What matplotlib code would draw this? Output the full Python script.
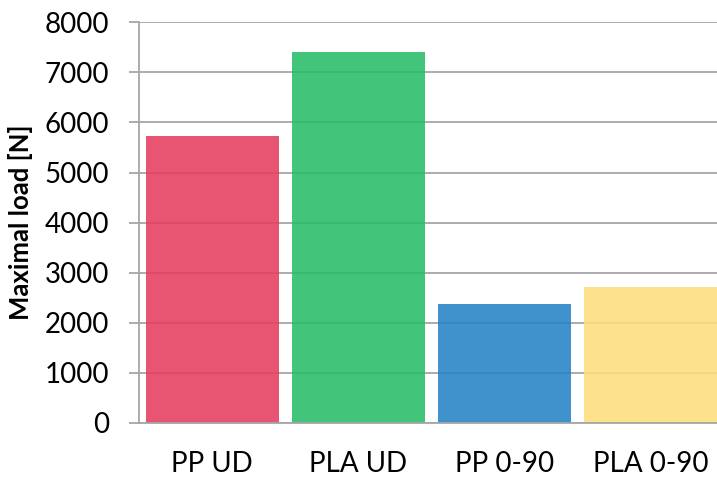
import numpy as np
import matplotlib.pyplot as plt

# maximal load per specimen type
samples = ["PP UD", "PLA UD", "PP 0-90", "PLA 0-90"]
max_load = [5730, 7405, 2375, 2715]
bar_colors = ["#E53D5E", "#28BC68", "#2583C7", "#FDDE7B"]
y_ticks = [0, 1000, 2000, 3000, 4000, 5000, 6000, 7000, 8000]

plt.rcParams["font.family"] = ["Lato", "DejaVu Sans"]

fig = plt.figure(figsize=(7.17, 4.78), dpi=100)
ax = fig.add_axes([0.1943, 0.1151, 0.8145, 0.8383])

x = np.arange(len(samples))
ax.bar(x, max_load, width=0.91, color=bar_colors, alpha=0.88, zorder=2)

ax.set_xlim(-0.5, len(samples) - 0.5)
ax.set_ylim(0, 8000)
ax.set_yticks(y_ticks)
ax.set_xticks(x)
ax.set_xticklabels(samples)

ax.grid(axis="y", color="#A6A6A6", linewidth=1.3, zorder=1)
ax.set_axisbelow(True)
for side in ["top", "right"]:
    ax.spines[side].set_visible(False)
ax.spines["left"].set_color("#A6A6A6")
ax.spines["bottom"].set_color("#A6A6A6")
ax.spines["left"].set_linewidth(1.3)
ax.spines["bottom"].set_linewidth(1.3)

ax.tick_params(axis="y", length=7, width=1.3, color="#A6A6A6", pad=15,
               labelsize=20)
ax.tick_params(axis="x", length=0, pad=20, labelsize=20)
ax.set_ylabel("Maximal load [N]", fontsize=18.5, fontweight="bold", labelpad=8)

fig.savefig("out.png", dpi=100)
